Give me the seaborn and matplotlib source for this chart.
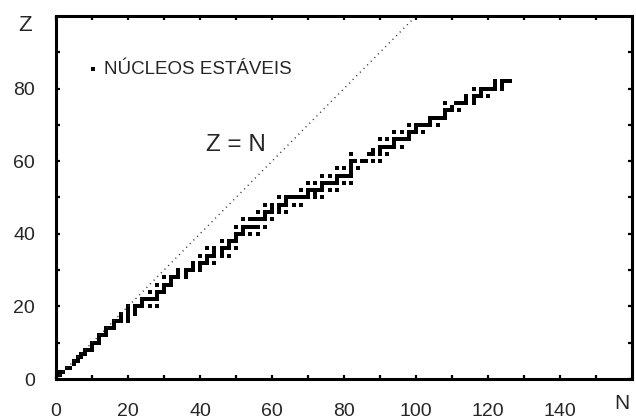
import numpy as np
import matplotlib
matplotlib.use("Agg")
import matplotlib.pyplot as plt
import seaborn as sns

# numero de isotopos estaveis para cada Z = 1..82
isotope_counts = [2, 2, 2, 1, 2, 2, 2, 3, 1, 3,
                  1, 3, 1, 3, 1, 4, 2, 3, 2, 6,
                  1, 5, 1, 4, 1, 4, 1, 5, 2, 5,
                  2, 5, 1, 6, 2, 6, 1, 4, 1, 5,
                  1, 7, 0, 7, 1, 6, 2, 7, 1, 10,
                  2, 8, 1, 9, 1, 7, 1, 4, 1, 6,
                  0, 5, 2, 6, 1, 7, 1, 6, 1, 7,
                  1, 5, 1, 4, 1, 6, 2, 5, 1, 7,
                  2, 4]

# N de cada nucleo estavel, na ordem de Z
n_values = [0, 1, 1, 2, 3, 4, 5, 5, 6, 6, 7, 7, 8, 8, 9, 10, 10,
            10, 11, 12, 12, 12, 13, 14, 14, 14, 15, 16, 16,
            16, 17, 18, 20, 18, 20, 18, 20, 22, 20, 22,
            20, 22, 23, 24, 26, 28, 24, 24, 25, 26, 27, 28, 28,
            26, 28, 29, 30, 30, 28, 30, 31, 32, 32,
            30, 32, 33, 34, 36, 34, 36, 34, 36, 37, 38, 40, 38, 40,
            38, 40, 41, 42, 44, 42, 40, 42, 43, 44, 46, 48, 44, 46,
            42, 44, 46, 47, 48, 50, 48, 46, 48, 49, 50, 50,
            50, 51, 52, 54, 56, 52, 50, 52, 53, 54, 55, 56, 58,
            52, 54, 55, 56, 57, 58, 60, 58, 56, 58, 59, 60, 62, 64,
            60, 62, 58, 60, 62, 63, 64, 66, 68, 64,
            62, 64, 65, 66, 67, 68, 69, 70, 72, 74, 70, 72,
            68, 70, 71, 72, 73, 74, 76, 78, 74,
            70, 72, 74, 75, 76, 77, 78, 80, 82, 78,
            74, 76, 78, 79, 80, 81, 82, 82, 78, 80, 82, 84, 82,
            82, 83, 85, 86, 88, 90, 82, 87, 88, 90, 92, 88, 90,
            90, 91, 92, 93, 94, 96, 94, 90, 92, 94, 95, 96, 97, 98, 98,
            94, 96, 98, 99, 100, 102, 100, 98, 100, 101, 102, 103, 104, 106,
            104, 104, 105, 106, 107, 108, 108, 108, 109, 110, 112, 110,
            108, 111, 112, 113, 114, 116, 114, 116, 114, 116, 117, 118, 120,
            118, 116, 118, 119, 120, 121, 122, 124, 122, 124,
            122, 124, 125, 126]

z_values = np.repeat(np.arange(1, 83), isotope_counts)
assert len(z_values) == len(n_values)

x_ticks = [0, 20, 40, 60, 80, 100, 120, 140]
y_ticks = [0, 20, 40, 60, 80]

sns.set_style("ticks")
plt.rcParams["font.family"] = ["Liberation Sans", "DejaVu Sans"]

fig = plt.figure(figsize=(6.36, 4.19), dpi=100)
ax = fig.add_axes([56 / 636, 40 / 419, 576 / 636, 363 / 419])

# linha Z = N
ax.plot([0, 100], [0, 100], color="#333333", lw=1.0, linestyle=(0, (0.8, 2.9)))

sns.scatterplot(x=n_values, y=z_values, marker="s", s=7.5, color="black",
                linewidth=0, label="NÚCLEOS ESTÁVEIS", ax=ax)

ax.set_xlim(0, 160)
ax.set_ylim(0, 100)
ax.set_xticks(x_ticks)
ax.set_yticks(y_ticks)
ax.set_xticks(np.arange(10, 160, 20), minor=True)
ax.set_yticks(np.arange(10, 100, 20), minor=True)
ax.tick_params(which="both", direction="in", top=True, right=True,
               length=3, width=1.6, color="black")
ax.tick_params(axis="x", pad=17, labelsize=14)
ax.tick_params(axis="y", pad=15, labelsize=14)
for sp in ax.spines.values():
    sp.set_linewidth(2.2)
    sp.set_color("black")

ax.set_xlabel("N", fontsize=15)
ax.xaxis.set_label_coords(0.983, -0.042)
ax.set_ylabel("Z", fontsize=16, rotation=0, ha="center", va="center")
ax.yaxis.set_label_coords(-0.054, 0.974)

ax.text(50.1, 62.8, "Z = N", fontsize=17.5, ha="center", va="baseline")

ax.legend(loc="center left", bbox_to_anchor=(0.056, 0.854), frameon=False,
          borderpad=0, borderaxespad=0, handlelength=0.5, handletextpad=0.35,
          fontsize=13.5)

fig.savefig("out.png", dpi=100)
